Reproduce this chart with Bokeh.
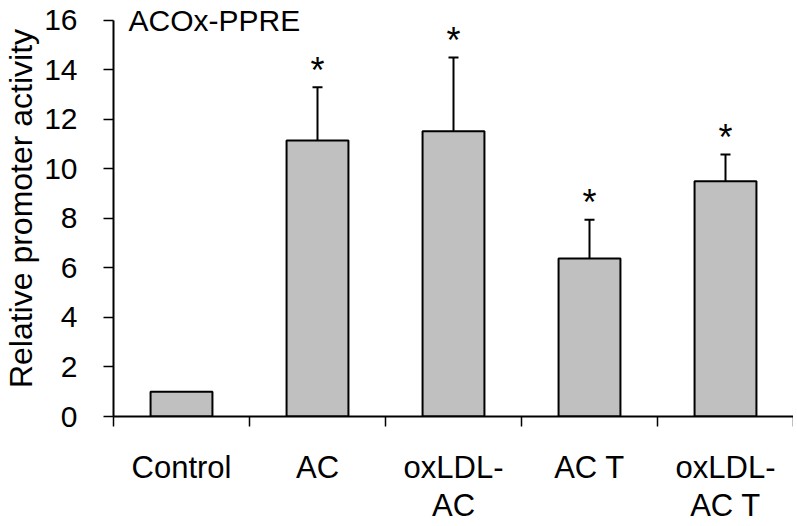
from bokeh.plotting import figure
from bokeh.models import Range1d, FixedTicker, Whisker, TeeHead, ColumnDataSource, Label
from bokeh.core.properties import value
from bokeh.embed import file_html
from bokeh.resources import INLINE

# ---- data ----
categories = ["Control", "AC", "oxLDL-\nAC", "AC T", "oxLDL-\nAC T"]
means = [1.0, 11.15, 11.52, 6.38, 9.5]
errors = [0.0, 2.15, 2.98, 1.57, 1.08]
significant = [False, True, True, True, True]
y_ticks = [0, 2, 4, 6, 8, 10, 12, 14, 16]
panel_title = "ACOx-PPRE"
y_title = "Relative promoter activity"

FONT = "Liberation Sans"
Y_TOP = 16.8          # a little headroom above the 16 tick for the panel title
PX_PER_UNIT = 24.75

xs = [i + 0.5 for i in range(len(categories))]
uppers = [m + e for m, e in zip(means, errors)]

bar_src = ColumnDataSource(dict(x=xs, top=means))
err_idx = [i for i, e in enumerate(errors) if e > 0]
err_src = ColumnDataSource(dict(
    base=[xs[i] for i in err_idx],
    lower=[means[i] for i in err_idx],
    upper=[uppers[i] for i in err_idx],
))
sig_idx = [i for i, s in enumerate(significant) if s]
star_src = ColumnDataSource(dict(
    x=[xs[i] for i in sig_idx],
    y=[uppers[i] for i in sig_idx],
    t=["*"] * len(sig_idx),
))

p = figure(frame_width=680, frame_height=int(round(Y_TOP * PX_PER_UNIT)),
           output_backend="svg", toolbar_location=None,
           x_range=Range1d(0, len(categories)), y_range=Range1d(0, Y_TOP),
           min_border_left=108, min_border_right=0, min_border_top=0, min_border_bottom=98)
p.outline_line_color = None
p.xgrid.visible = False
p.ygrid.visible = False
p.background_fill_color = "white"
p.border_fill_color = "white"

p.vbar(x="x", top="top", bottom=0, width=0.455, source=bar_src,
       fill_color="#C0C0C0", line_color="black", line_width=2)

p.add_layout(Whisker(source=err_src, base="base", lower="lower", upper="upper",
                     dimension="height", line_color="black", line_width=2,
                     lower_head=None,
                     upper_head=TeeHead(size=10, line_color="black", line_width=2)))

p.text(x="x", y="y", text="t", source=star_src, text_align="center",
       text_baseline="alphabetic", y_offset=-17,
       text_font=value(FONT), text_font_size="36px", text_color="black")

p.add_layout(Label(x=0.11, y=16.0, text=panel_title, text_font=FONT,
                   text_font_size="30px", text_color="black", text_baseline="alphabetic"))

# y axis
yax = p.yaxis[0]
yax.ticker = FixedTicker(ticks=y_ticks)
yax.bounds = (0, 16)
yax.axis_label = y_title
yax.axis_label_text_font = FONT
yax.axis_label_text_font_size = "32px"
yax.axis_label_text_font_style = "normal"
yax.axis_label_text_color = "black"
yax.axis_label_standoff = 2
yax.major_label_text_font = FONT
yax.major_label_text_font_size = "30px"
yax.major_label_text_color = "black"
yax.major_label_standoff = 26
yax.major_tick_out = 10
yax.major_tick_in = 0
yax.minor_tick_out = 0
yax.minor_tick_in = 0
yax.axis_line_width = 2
yax.axis_line_color = "black"
yax.major_tick_line_color = "black"
yax.major_tick_line_width = 1.5

# x axis
xax = p.xaxis[0]
xax.ticker = FixedTicker(ticks=xs, minor_ticks=list(range(len(categories) + 1)))
xax.major_label_overrides = {x: c for x, c in zip(xs, categories)}
xax.major_label_text_font = FONT
xax.major_label_text_font_size = "31px"
xax.major_label_text_color = "black"
xax.major_label_text_line_height = 1.1
xax.major_label_standoff = 23
xax.major_tick_out = 0
xax.major_tick_in = 0
xax.minor_tick_out = 10
xax.minor_tick_in = 0
xax.minor_tick_line_color = "black"
xax.minor_tick_line_width = 1.5
xax.axis_line_width = 2
xax.axis_line_color = "black"

open("out.html", "w").write(file_html(p, INLINE))
